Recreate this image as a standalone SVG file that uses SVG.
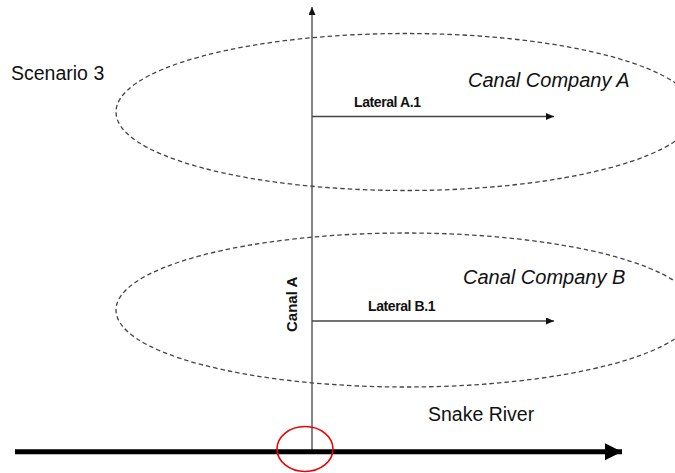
<svg xmlns="http://www.w3.org/2000/svg" width="675" height="473" viewBox="0 0 675 473">
<style>
.zone{fill:none;stroke:#444;stroke-width:1.3;stroke-dasharray:4.5 3}
.lbl{font-family:"Liberation Sans",Arial,sans-serif;fill:#111}
.co{font-size:20px;font-style:italic}
.lat{font-size:14px;font-weight:bold;letter-spacing:-0.4px}
.thin{stroke:#444;stroke-width:1.3;fill:none}
</style>
<defs>
<marker id="ah" markerWidth="8" markerHeight="7" refX="8" refY="3.5" orient="auto" markerUnits="userSpaceOnUse">
<path d="M0,0 L8,3.5 L0,7 Z" fill="#111"/>
</marker>
<marker id="big" markerWidth="17" markerHeight="17" refX="17" refY="8.5" orient="auto" markerUnits="userSpaceOnUse">
<path d="M0,0 L17,8.5 L0,17 Z" fill="#000"/>
</marker>
</defs>
<rect width="675" height="473" fill="#fff"/>
<text class="lbl" x="11" y="79.5" font-size="19.5">Scenario 3</text>
<g id="companyA">
<ellipse class="zone" cx="406" cy="112" rx="290" ry="78.5"/>
<text class="lbl co" x="468" y="87">Canal Company A</text>
</g>
<g id="companyB">
<ellipse class="zone" cx="406" cy="310" rx="290" ry="77"/>
<text class="lbl co" x="463" y="283.5">Canal Company B</text>
</g>
<g id="connectors">
<line class="thin" x1="312" y1="452" x2="312" y2="7" marker-end="url(#ah)"/>
<line class="thin" x1="312" y1="116.5" x2="554" y2="116.5" marker-end="url(#ah)"/>
<line class="thin" x1="312" y1="321" x2="554" y2="321" marker-end="url(#ah)"/>
<line x1="15" y1="451.7" x2="622" y2="451.7" stroke="#000" stroke-width="5" marker-end="url(#big)"/>
</g>
<g id="canalA">
<text class="lbl" font-size="15" font-weight="bold" transform="translate(297,332) rotate(-90)">Canal A</text>
</g>
<g id="lateralA1">
<text class="lbl lat" x="354" y="107">Lateral A.1</text>
</g>
<g id="lateralB1">
<text class="lbl lat" x="368" y="311">Lateral B.1</text>
</g>
<g id="snakeRiver">
<text class="lbl" x="428" y="420.5" font-size="19.5">Snake River</text>
</g>
<g id="confluence">
<ellipse cx="305" cy="449" rx="28" ry="22.5" fill="none" stroke="#e00" stroke-width="1.6"/>
</g>
</svg>
